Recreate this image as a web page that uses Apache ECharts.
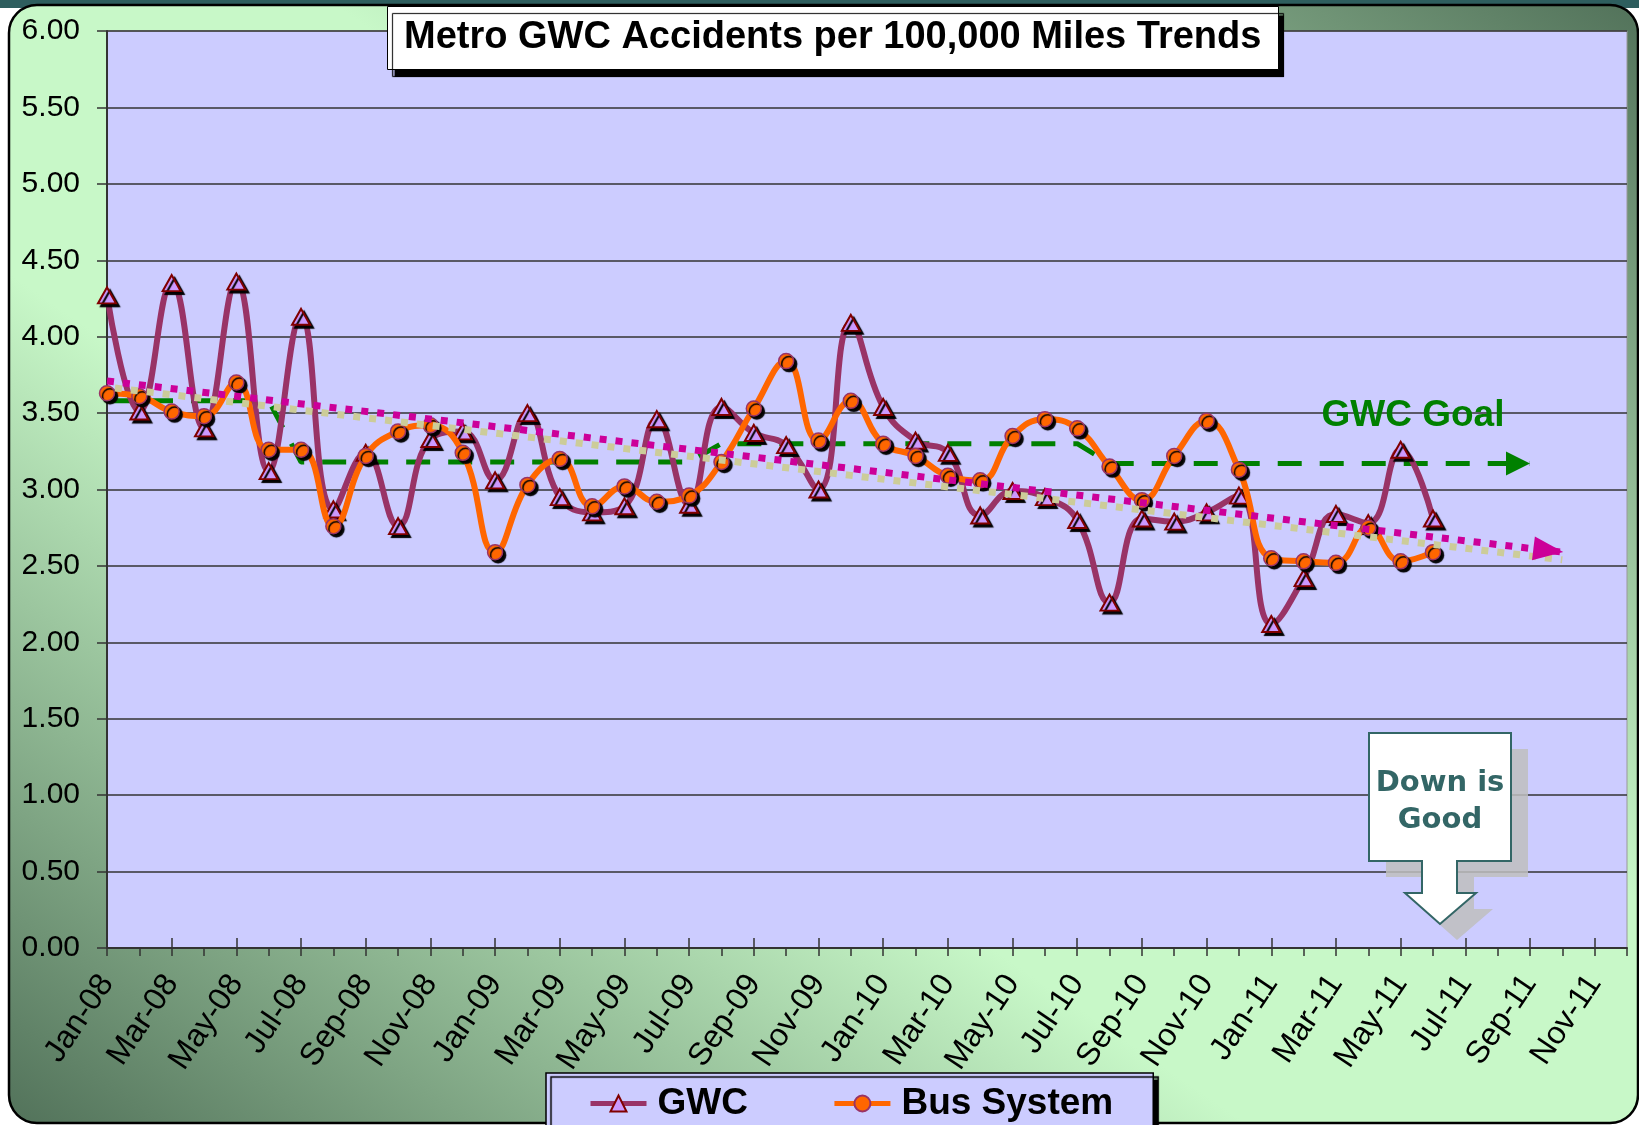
<!DOCTYPE html>
<html>
<head>
<meta charset="utf-8">
<title>Metro GWC Accidents per 100,000 Miles Trends</title>
<script src="https://cdn.jsdelivr.net/npm/echarts@6/dist/echarts.min.js"></script>
<style>
  html, body { margin: 0; padding: 0; background: #ffffff; }
  #chart { width: 1639px; height: 1125px; }
</style>
</head>
<body>
<div id="chart"></div>
<script>
// months Jan-08 .. Dec-11
var monthNames = ['Jan','Feb','Mar','Apr','May','Jun','Jul','Aug','Sep','Oct','Nov','Dec'];
var years = ['08','09','10','11'];
var categories = [];
years.forEach(function (y) {
    monthNames.forEach(function (m) { categories.push(m + '-' + y); });
});

// GWC accidents per 100,000 miles, Jan-08 .. Jun-11
var gwcValues = [
    4.27, 3.51, 4.35, 3.40, 4.36, 3.12, 4.13, 2.87, 3.24, 2.76, 3.33, 3.38,
    3.06, 3.50, 2.95, 2.85, 2.89, 3.46, 2.90, 3.54, 3.37, 3.29, 3.00, 4.09,
    3.54, 3.32, 3.24, 2.83, 2.99, 2.95, 2.80, 2.26, 2.81, 2.79, 2.85, 2.96,
    2.12, 2.42, 2.84, 2.78, 3.26, 2.81
];
// Bus System, Jan-08 .. Jun-11
var busValues = [
    3.63, 3.61, 3.51, 3.48, 3.70, 3.26, 3.26, 2.76, 3.22, 3.38, 3.42, 3.24,
    2.59, 3.03, 3.20, 2.89, 3.02, 2.92, 2.96, 3.18, 3.53, 3.84, 3.32, 3.58,
    3.30, 3.22, 3.09, 3.06, 3.35, 3.46, 3.40, 3.15, 2.93, 3.22, 3.45, 3.13,
    2.55, 2.53, 2.52, 2.75, 2.53, 2.59
];
// GWC goal, Jan-08 .. Sep-11
var goalValues = [
    3.58, 3.58, 3.58, 3.58, 3.58, 3.58,
    3.18, 3.18, 3.18, 3.18, 3.18, 3.18, 3.18, 3.18, 3.18, 3.18, 3.18, 3.18, 3.18,
    3.30, 3.30, 3.30, 3.30, 3.30, 3.30, 3.30, 3.30, 3.30, 3.30, 3.30, 3.30,
    3.17, 3.17, 3.17, 3.17, 3.17, 3.17, 3.17, 3.17, 3.17, 3.17, 3.17, 3.17, 3.17, 3.17
];
// trend lines: value at Jan-08 and at Oct-11
var gwcTrendEnds = [3.71, 2.59];
var busTrendEnds = [3.67, 2.54];
var trendEndIndex = 45;

var yTicks = [0, 0.5, 1, 1.5, 2, 2.5, 3, 3.5, 4, 4.5, 5, 5.5, 6];

var FONT = '"Liberation Sans", Arial, sans-serif';

function padTo(arr, n) {
    var out = arr.slice();
    while (out.length < n) out.push(null);
    return out;
}
function trendData(ends) {
    return categories.map(function (c, i) {
        if (i === 0) return ends[0];
        if (i === trendEndIndex) return ends[1];
        return null;
    });
}

var goalData = padTo(goalValues, categories.length);
var lastGoal = goalValues.length - 1;
goalData[lastGoal] = {
    value: goalValues[lastGoal],
    symbol: 'triangle', symbolSize: [24, 24], symbolRotate: -90, symbolOffset: [-12, 0],
    itemStyle: { color: '#008000' }
};

var gwcTrend = trendData(gwcTrendEnds);
gwcTrend[trendEndIndex] = {
    value: gwcTrendEnds[1],
    symbol: 'triangle', symbolSize: [24, 30], symbolRotate: -97, symbolOffset: [-14, -2],
    itemStyle: { color: '#CC0099' }
};

var chart = echarts.init(document.getElementById('chart'));

var option = {
    animation: false,
    backgroundColor: 'transparent',
    title: {
        text: 'Metro GWC Accidents per 100,000 Miles Trends',
        left: 387,
        top: 6,
        padding: [13, 17, 13, 17],
        backgroundColor: '#ffffff',
        borderColor: '#000000',
        borderWidth: 1,
        shadowColor: '#000000',
        shadowBlur: 1,
        shadowOffsetX: 5,
        shadowOffsetY: 7,
        textStyle: { fontFamily: FONT, fontWeight: 'bold', fontSize: 38, color: '#000000' }
    },
    legend: {
        data: ['GWC', 'Bus System'],
        left: 546,
        top: 1073,
        padding: [12, 40, 20, 42],
        itemGap: 84,
        itemWidth: 56,
        itemHeight: 20,
        lineStyle: { width: 5 },
        backgroundColor: '#CCCCFF',
        borderColor: '#000000',
        borderWidth: 1.5,
        shadowColor: '#000000',
        shadowBlur: 1,
        shadowOffsetX: 5,
        shadowOffsetY: 4,
        textStyle: { fontFamily: FONT, fontWeight: 'bold', fontSize: 37, color: '#000000', padding: [0, 0, 0, 6] }
    },
    grid: {
        left: 107,
        right: 12,
        top: 31,
        bottom: 177,
        show: true,
        backgroundColor: '#CCCCFF',
        borderColor: '#999999',
        borderWidth: 1
    },
    xAxis: [
        {
            type: 'category',
            data: categories,
            boundaryGap: false,
            axisLine: { lineStyle: { color: '#333333', width: 2 } },
            axisTick: { show: true, interval: 0, length: 8, lineStyle: { color: '#333333', width: 1.5 } },
            axisLabel: {
                interval: 1,
                rotate: 56,
                margin: 30,
                fontFamily: FONT,
                fontSize: 32,
                color: '#000000'
            },
            splitLine: { show: false }
        },
        {
            type: 'category',
            data: categories,
            boundaryGap: false,
            position: 'bottom',
            axisLine: { show: false },
            axisTick: { show: true, inside: true, interval: 1, length: 10, lineStyle: { color: '#333333', width: 1.5 } },
            axisLabel: { show: false },
            splitLine: { show: false }
        }
    ],
    yAxis: {
        type: 'value',
        min: yTicks[0],
        max: yTicks[yTicks.length - 1],
        interval: 0.5,
        axisLine: { show: true, lineStyle: { color: '#333333', width: 2 } },
        axisTick: { show: true, length: 10, lineStyle: { color: '#333333', width: 1.5 } },
        axisLabel: {
            margin: 27,
            fontFamily: FONT,
            fontSize: 30,
            color: '#000000',
            formatter: function (v) { return v.toFixed(2); }
        },
        splitLine: { show: true, lineStyle: { color: '#333333', width: 1.5 } }
    },
    series: [
        {
            name: 'GWC Goal',
            type: 'line',
            data: goalData,
            symbol: 'none',
            lineStyle: { color: '#008000', width: 5, type: [24, 18] },
            z: 2,
            silent: true
        },
        {
            name: 'GWC',
            type: 'line',
            data: padTo(gwcValues, categories.length),
            smooth: 0.45,
            symbol: 'triangle',
            symbolSize: [18, 16],
            lineStyle: { color: '#993366', width: 6 },
            itemStyle: {
                color: '#CC99FF',
                borderColor: '#800000',
                borderWidth: 2,
                shadowColor: '#000000',
                shadowBlur: 1,
                shadowOffsetX: 3,
                shadowOffsetY: 3
            },
            z: 3
        },
        {
            name: 'Bus System',
            type: 'line',
            data: padTo(busValues, categories.length),
            smooth: 0.45,
            symbol: 'circle',
            symbolSize: 15,
            lineStyle: { color: '#FF6600', width: 6 },
            itemStyle: {
                color: '#FF6600',
                borderColor: '#993366',
                borderWidth: 1.5,
                shadowColor: '#000000',
                shadowBlur: 1,
                shadowOffsetX: 3,
                shadowOffsetY: 3
            },
            z: 4
        },
        {
            name: 'Bus trend',
            type: 'line',
            data: trendData(busTrendEnds),
            connectNulls: true,
            symbol: 'none',
            lineStyle: { color: '#CCCC99', width: 7, type: [7, 9], dashOffset: 8 },
            z: 5,
            silent: true
        },
        {
            name: 'GWC trend',
            type: 'line',
            data: gwcTrend,
            connectNulls: true,
            symbol: 'none',
            lineStyle: { color: '#CC0099', width: 7, type: [7, 9] },
            z: 6,
            silent: true
        }
    ],
    graphic: [
        {
            type: 'rect',
            z: -100,
            shape: { x: 0, y: 0, width: 1639, height: 8 },
            style: { fill: '#2E5E5E' }
        },
        {
            type: 'rect',
            z: -99,
            shape: { x: 9, y: 5, width: 1629, height: 1118, r: 28 },
            style: {
                fill: new echarts.graphic.LinearGradient(301, 1324, 1345, -196, [
                    { offset: 0, color: '#52725A' },
                    { offset: 0.38, color: '#C8F8C8' },
                    { offset: 0.6, color: '#C8F8C8' },
                    { offset: 1, color: '#52725A' }
                ], true),
                stroke: '#000000',
                lineWidth: 2.5
            }
        },
        {
            type: 'text',
            z: 50,
            x: 1413,
            y: 416,
            style: {
                text: 'GWC Goal',
                font: 'bold 37px "Liberation Sans", Arial, sans-serif',
                fill: '#008000',
                textAlign: 'center', align: 'center',
                textVerticalAlign: 'middle', verticalAlign: 'middle'
            }
        },
        {
            type: 'polygon',
            z: 50,
            x: 17,
            y: 16,
            shape: { points: [[1369, 733], [1511, 733], [1511, 861], [1457, 861], [1457, 893], [1476, 893], [1440, 924], [1405, 893], [1422, 893], [1422, 861], [1369, 861]] },
            style: { fill: 'rgba(190,190,190,0.85)' }
        },
        {
            type: 'polygon',
            z: 51,
            shape: { points: [[1369, 733], [1511, 733], [1511, 861], [1457, 861], [1457, 893], [1476, 893], [1440, 924], [1405, 893], [1422, 893], [1422, 861], [1369, 861]] },
            style: { fill: '#ffffff', stroke: '#336666', lineWidth: 2 }
        },
        {
            type: 'text',
            z: 52,
            x: 1440,
            y: 783,
            style: {
                text: 'Down is',
                font: 'bold 29px "DejaVu Sans", sans-serif',
                fill: '#336666',
                textAlign: 'center', align: 'center',
                textVerticalAlign: 'middle', verticalAlign: 'middle'
            }
        },
        {
            type: 'text',
            z: 52,
            x: 1440,
            y: 820,
            style: {
                text: 'Good',
                font: 'bold 29px "DejaVu Sans", sans-serif',
                fill: '#336666',
                textAlign: 'center', align: 'center',
                textVerticalAlign: 'middle', verticalAlign: 'middle'
            }
        }
    ]
};

chart.setOption(option);
</script>
</body>
</html>
